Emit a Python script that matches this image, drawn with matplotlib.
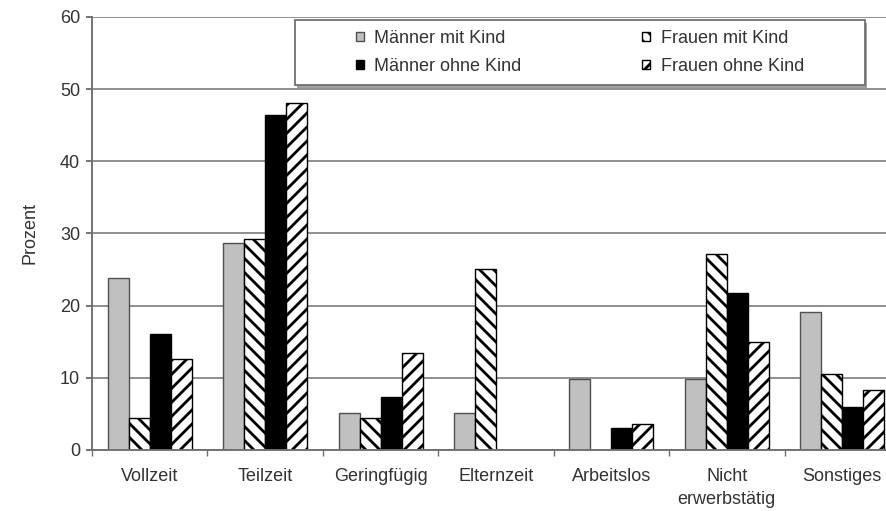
import numpy as np
import matplotlib
matplotlib.use('Agg')
from matplotlib import pyplot as plt
from matplotlib.patches import Rectangle

# Anteile in Prozent je Erwerbsstatus
categories = ['Vollzeit', 'Teilzeit', 'Geringfügig', 'Elternzeit',
              'Arbeitslos', 'Nicht\nerwerbstätig', 'Sonstiges']
maenner_mit_kind = [23.9, 28.7, 5.1, 5.1, 9.9, 9.9, 19.1]
frauen_mit_kind = [4.5, 29.3, 4.5, 25.1, 0.0, 27.2, 10.6]
maenner_ohne_kind = [16.1, 46.4, 7.3, 0.0, 3.1, 21.8, 6.0]
frauen_ohne_kind = [12.6, 48.1, 13.4, 0.0, 3.6, 14.9, 8.3]
yticks = [0, 10, 20, 30, 40, 50, 60]

# Figure dpi sets the hatch spacing; sizes below are given in pixels.
DPI = 126
W, H = 886, 511


def pt(px):
    return px * 72 / DPI


plt.rcParams['font.family'] = ['Liberation Sans', 'DejaVu Sans']
plt.rcParams['font.size'] = pt(18)
plt.rcParams['hatch.linewidth'] = pt(2.8)

text_color = '#333333'
grid_color = '#8c8c8c'
axis_color = '#707070'

fig = plt.figure(figsize=(W / DPI, H / DPI), dpi=DPI)
fig.set_facecolor('white')
ax = fig.add_axes([92 / W, 61 / H, 808 / W, 433 / H])

x = np.arange(len(categories))
bw = 0.182
series = [
    (maenner_mit_kind, 'Männer mit Kind', dict(color='#c0c0c0', edgecolor='#505050')),
    (frauen_mit_kind, 'Frauen mit Kind', dict(color='white', edgecolor='black', hatch='\\\\\\')),
    (maenner_ohne_kind, 'Männer ohne Kind', dict(color='black', edgecolor='black')),
    (frauen_ohne_kind, 'Frauen ohne Kind', dict(color='white', edgecolor='black', hatch='///')),
]
handles = []
for i, (vals, label, style) in enumerate(series):
    h = ax.bar(x + (i - 1.5) * bw, vals, bw, label=label, linewidth=pt(1.4),
               zorder=3, **style)
    handles.append(h)

ax.set_xlim(-0.5, len(categories) - 0.5)
ax.set_ylim(0, 60)
ax.set_yticks(yticks)
ax.yaxis.grid(True, color=grid_color, linewidth=pt(1.9), zorder=0)
ax.set_axisbelow(True)
for side in ('top', 'right'):
    ax.spines[side].set_visible(False)
for side in ('left', 'bottom'):
    ax.spines[side].set_color(axis_color)
    ax.spines[side].set_linewidth(pt(1.9))
    ax.spines[side].set_zorder(4)

ax.set_xticks(x)
ax.set_xticklabels(categories, color=text_color, linespacing=1.5)
ax.set_xticks(np.arange(len(categories) + 1) - 0.5, minor=True)
ax.tick_params(axis='x', which='major', length=0, pad=pt(18))
ax.tick_params(axis='x', which='minor', length=pt(5.5), width=pt(1.4),
               color=axis_color)
ax.tick_params(axis='y', length=pt(6.5), width=pt(1.9), color=axis_color,
               pad=pt(5.5), labelcolor=text_color)

ax.set_ylabel('Prozent', color=text_color, va='center')
ax.yaxis.set_label_coords(-0.077, 0.5)

# Legendenrahmen mit Schatten
bx0, by0, bx1, by1 = 295, 20, 865, 85
fig.patches.append(Rectangle(((bx0 + 2) / W, 1 - (by1 + 3) / H),
                             (bx1 - bx0) / W, (by1 - by0) / H,
                             transform=fig.transFigure, facecolor='#a0a0a0',
                             edgecolor='none', zorder=4))
fig.patches.append(Rectangle((bx0 / W, 1 - by1 / H),
                             (bx1 - bx0) / W, (by1 - by0) / H,
                             transform=fig.transFigure, facecolor='white',
                             edgecolor=axis_color, linewidth=pt(1.8), zorder=5))

order = [0, 2, 1, 3]
leg = fig.legend([handles[i] for i in order], [series[i][1] for i in order],
                 ncol=2, frameon=False, loc='center',
                 bbox_to_anchor=((bx0 + bx1) / 2 / W, 1 - (by0 + by1) / 2 / H),
                 handlelength=0.42, handleheight=0.42, handletextpad=0.6,
                 columnspacing=6.7, labelspacing=0.62, borderpad=0)
leg.set_zorder(6)
for t in leg.get_texts():
    t.set_color(text_color)

fig.savefig('out.png', dpi=DPI)
